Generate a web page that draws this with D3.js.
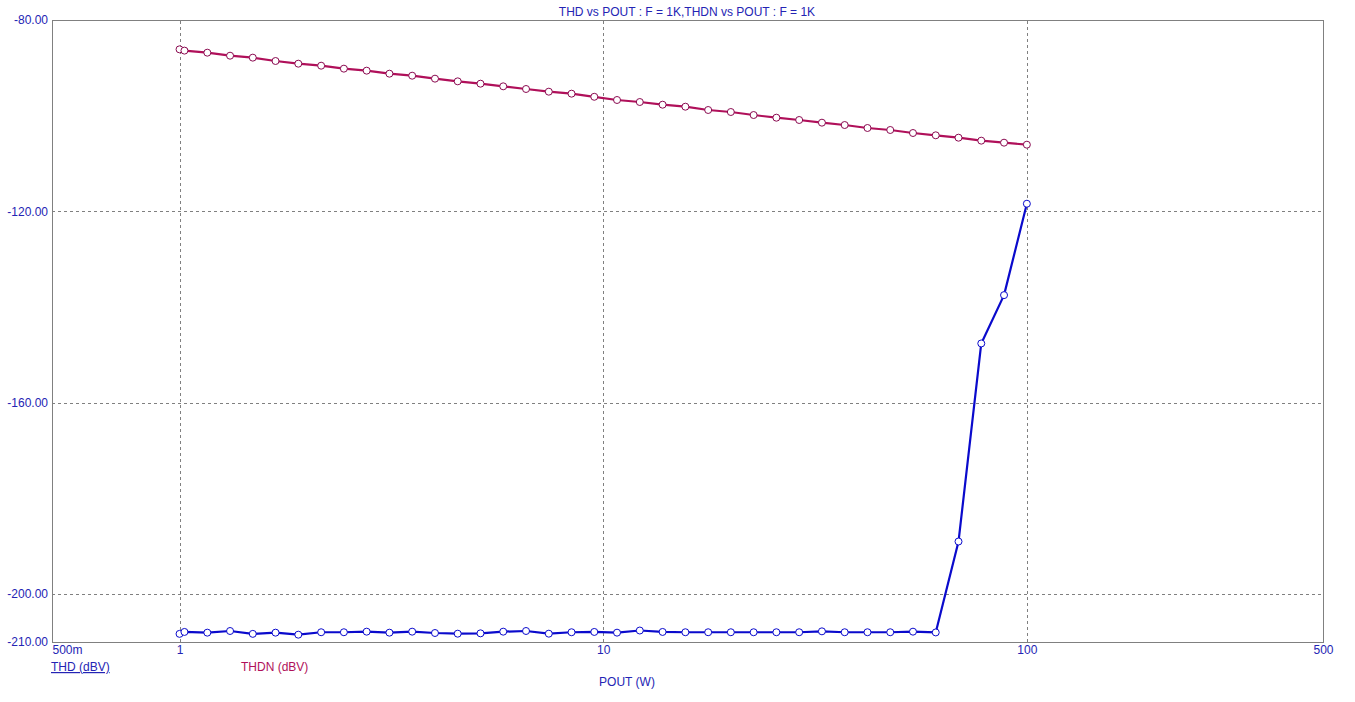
<!DOCTYPE html>
<html>
<head>
<meta charset="utf-8">
<script src="https://cdn.jsdelivr.net/npm/d3@7"></script>
<style>
  html, body { margin: 0; padding: 0; background: #fff; }
  svg { display: block; font-family: "Liberation Sans", Arial, sans-serif; }
</style>
</head>
<body>
<svg id="chart" width="1355" height="702"></svg>
<script>
// ---- Data ----
const pout = [1, 1.027, 1.163, 1.316, 1.489, 1.685, 1.907, 2.159, 2.443, 2.765, 3.129,
  3.541, 4.008, 4.535, 5.133, 5.808, 6.574, 7.440, 8.419, 9.527, 10.78,
  12.20, 13.81, 15.63, 17.69, 20.01, 22.65, 25.63, 29.01, 32.83, 37.15,
  42.05, 47.59, 53.85, 60.94, 68.97, 78.05, 88.33, 100];

const thd = [-208.3, -207.9, -208.05, -207.7, -208.3, -208.05, -208.47, -207.96, -207.96, -207.84, -208.05,
  -207.84, -208.12, -208.26, -208.19, -207.84, -207.7, -208.26, -207.96, -207.9, -208.05,
  -207.6, -207.9, -207.96, -207.96, -207.96, -207.96, -207.96, -207.96, -207.77, -207.96,
  -207.96, -207.96, -207.84, -208.0, -189.0, -147.6, -137.5, -118.4];

const thdn = [-86.13, -86.4, -86.83, -87.46, -87.87, -88.57, -89.13, -89.55, -90.17, -90.59, -91.22,
  -91.64, -92.26, -92.82, -93.31, -93.86, -94.42, -94.98, -95.4, -96.05, -96.72,
  -97.14, -97.7, -98.12, -98.81, -99.23, -99.86, -100.42, -100.9, -101.46, -101.95,
  -102.57, -102.99, -103.62, -104.1, -104.6, -105.22, -105.64, -106.06];

const xTickValues = [0.5, 1, 10, 100, 500];
const xTickLabels = ["500m", "1", "10", "100", "500"];
const xGridValues = [1, 10, 100];
const yTickValues = [-80, -120, -160, -200, -210];
const yGridValues = [-120, -160, -200];

const titleText = "THD vs POUT : F = 1K,THDN vs POUT : F = 1K";
const xLabel = "POUT (W)";
const seriesNames = ["THD (dBV)", "THDN (dBV)"];

// ---- Layout ----
const svg = d3.select("#chart");
const M = { left: 52, right: 1323, top: 20, bottom: 642 };
const textBlue = "#2424b4";
const blue = "#0a0acc";
const red = "#b0105a";
const redMarker = "#8a0a50";

const x = d3.scaleLog().domain([0.5, 500]).range([M.left, M.right]);
const y = d3.scaleLinear().domain([-210, -80]).range([M.bottom, M.top]);

// grid
const gx = svg.append("g").attr("transform", `translate(0,${M.bottom})`)
  .call(d3.axisBottom(x).tickValues(xGridValues).tickSize(-(M.bottom - M.top)).tickFormat(""));
gx.select(".domain").remove();
gx.selectAll("line").attr("stroke", "#808080").attr("stroke-dasharray", "3,3").attr("shape-rendering", "crispEdges");

const gy = svg.append("g").attr("transform", `translate(${M.left},0)`)
  .call(d3.axisLeft(y).tickValues(yGridValues).tickSize(-(M.right - M.left)).tickFormat(""));
gy.select(".domain").remove();
gy.selectAll("line").attr("stroke", "#808080").attr("stroke-dasharray", "3,3").attr("shape-rendering", "crispEdges");

// frame
svg.append("rect").attr("x", M.left).attr("y", M.top)
  .attr("width", M.right - M.left).attr("height", M.bottom - M.top)
  .attr("fill", "none").attr("stroke", "#808080").attr("stroke-width", 1)
  .attr("shape-rendering", "crispEdges");

// y tick labels
const ya = svg.append("g").attr("transform", `translate(${M.left},0)`)
  .call(d3.axisLeft(y).tickValues(yTickValues).tickSize(0).tickPadding(4).tickFormat(d => d.toFixed(2)));
ya.select(".domain").remove();
ya.selectAll("text").attr("fill", textBlue).attr("font-size", 12)
  .attr("font-family", "'Liberation Sans', Arial, sans-serif");

// x tick labels
const xa = svg.append("g").attr("transform", `translate(0,${M.bottom})`)
  .call(d3.axisBottom(x).tickValues(xTickValues).tickSize(0).tickPadding(3)
    .tickFormat((d, i) => xTickLabels[i]));
xa.select(".domain").remove();
xa.selectAll("text").attr("fill", textBlue).attr("font-size", 12)
  .attr("font-family", "'Liberation Sans', Arial, sans-serif")
  .attr("text-anchor", d => d === 0.5 ? "start" : "middle");

// title
svg.append("text").attr("x", 687).attr("y", 16).attr("text-anchor", "middle")
  .attr("fill", textBlue).attr("font-size", 12).text(titleText);

// x label
svg.append("text").attr("x", 627).attr("y", 686).attr("text-anchor", "middle")
  .attr("fill", textBlue).attr("font-size", 12).text(xLabel);

// legend
svg.append("text").attr("x", 51).attr("y", 671).attr("fill", textBlue)
  .attr("font-size", 12).attr("text-decoration", "underline").text(seriesNames[0]);
svg.append("text").attr("x", 241).attr("y", 671).attr("fill", red)
  .attr("font-size", 12).text(seriesNames[1]);

// series
function drawSeries(vals, color, markerColor) {
  const pts = pout.map((p, i) => [p, vals[i]]);
  const line = d3.line().x(d => x(d[0])).y(d => y(d[1]));
  svg.append("path").datum(pts).attr("d", line)
    .attr("fill", "none").attr("stroke", color).attr("stroke-width", 2.2)
    .attr("stroke-linejoin", "round");
  svg.append("g").selectAll("circle").data(pts).join("circle")
    .attr("cx", d => x(d[0])).attr("cy", d => y(d[1])).attr("r", 3.5)
    .attr("fill", "#fff").attr("stroke", markerColor).attr("stroke-width", 1);
}
drawSeries(thdn, red, redMarker);
drawSeries(thd, blue, blue);
</script>
</body>
</html>
